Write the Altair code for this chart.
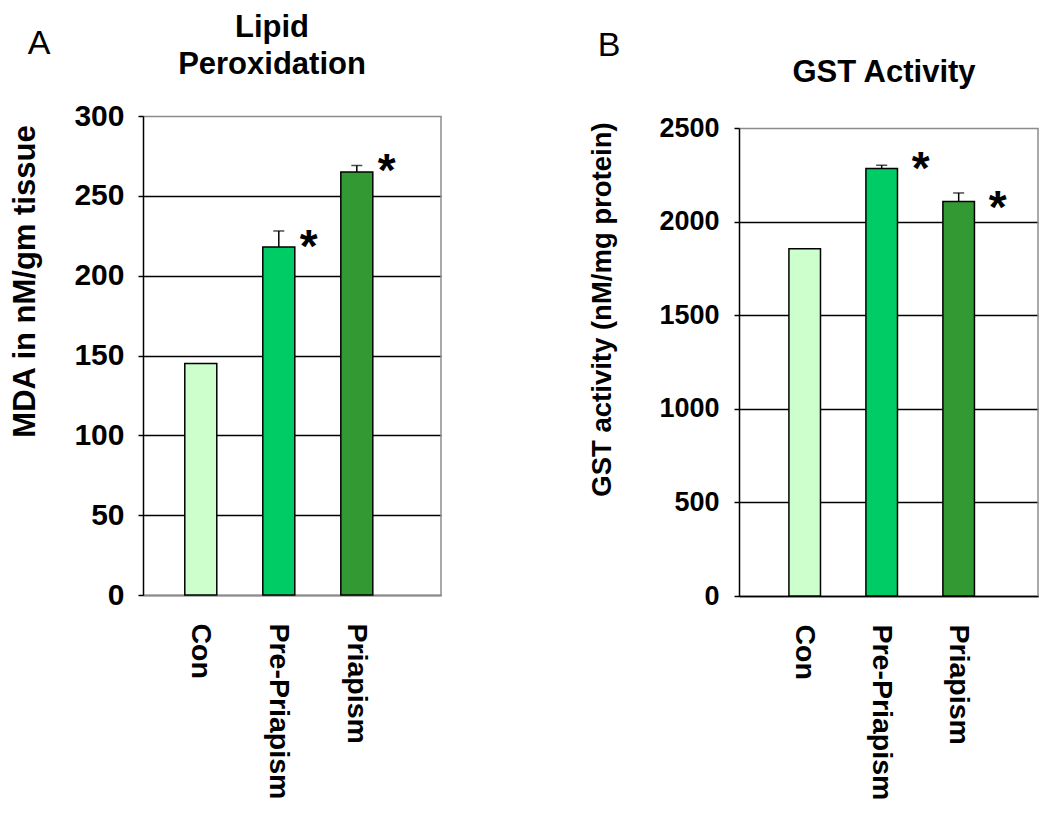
import altair as alt
import pandas as pd

groups = ["Con", "Pre-Priapism", "Priapism"]
colors = ["#CCFFCC", "#00CC66", "#339933"]

mda_values = [145, 218, 265]
mda_errors = [0, 10, 4]
mda_stars = ["", "*", "*"]
mda_star_y = [0, 224, 272]
mda_ticks = [0, 50, 100, 150, 200, 250, 300]

gst_values = [1855, 2283, 2108]
gst_errors = [0, 18, 45]
gst_stars = ["", "*", "*"]
gst_star_y = [0, 2334, 2126]
gst_ticks = [0, 500, 1000, 1500, 2000, 2500]

FONT = "Liberation Sans"
FRAME = "#8c8c8c"


def panel(values, errors, stars, star_y, ticks, ytitle, ytitle_size, tick_size,
          tick_pad, title_text, letter, width, height, top_gap, pi, po, align,
          xdom_color, title_x, title_y, star_dx, head_x, head_y, letter_x, letter_y):
    ymax = ticks[-1]
    df = pd.DataFrame({
        "group": groups,
        "value": values,
        "err": errors,
        "hi": [v + e for v, e in zip(values, errors)],
        "star": stars,
        "star_y": star_y,
    })
    x = alt.X(
        "group:N", sort=groups,
        scale=alt.Scale(paddingInner=pi, paddingOuter=po, align=align),
        axis=alt.Axis(title=None, labelAngle=90, labelFont=FONT, labelFontSize=28.5,
                      labelFontWeight="bold", labelColor="black", labelPadding=28,
                      labelLimit=0, ticks=False, domainColor=xdom_color, domainWidth=1.5,
                      labelAlign="left", labelBaseline="middle", grid=False),
    )
    y = alt.Y(
        "value:Q",
        scale=alt.Scale(domain=[0, ymax], nice=False, range=[height, top_gap]),
        axis=alt.Axis(values=ticks, format="d", title=ytitle, titleFont=FONT,
                      titleFontSize=ytitle_size, titleFontWeight="bold", titleColor="black",
                      titleX=title_x, titleY=title_y, titleAngle=-90,
                      titleAlign="center", titleBaseline="bottom",
                      labelFont=FONT, labelFontSize=tick_size, labelFontWeight="bold",
                      labelColor="black", labelPadding=tick_pad, labelOverlap=False,
                      tickColor="black", tickSize=5, tickWidth=1.5,
                      domainColor="black", domainWidth=1.5,
                      grid=True, gridWidth=1.5,
                      gridColor={"condition": {"test": f"datum.value >= {ymax}", "value": FRAME},
                                 "value": "black"}),
    )
    base = alt.Chart(df)
    bars = base.mark_bar(stroke="black", strokeWidth=1.5).encode(
        x=x, y=y,
        color=alt.Color("group:N", scale=alt.Scale(domain=groups, range=colors), legend=None),
    )
    errdf = base.transform_filter("datum.err > 0")
    rule = errdf.mark_rule(color="black", strokeWidth=1.5).encode(x=x, y="value:Q", y2="hi:Q")
    cap = errdf.mark_tick(color="black", thickness=1.5, size=11).encode(x=x, y="hi:Q")
    star = base.transform_filter("datum.star != ''").mark_text(
        font=FONT, fontSize=46, fontWeight="bold", color="black", dx=star_dx, dy=25,
        baseline="alphabetic", align="center",
    ).encode(x=x, y="star_y:Q", text="star:N")
    one = pd.DataFrame({"t": [title_text], "l": [letter]})
    frame = alt.Chart(one).mark_rule(color=FRAME, strokeWidth=1.5).encode(
        x=alt.value(width), y=alt.datum(0), y2=alt.datum(ymax)
    )
    head = alt.Chart(one).mark_text(
        font=FONT, fontSize=31, fontWeight="bold", color="black", lineBreak="\n",
        lineHeight=37, align="center", baseline="top",
    ).encode(x=alt.value(head_x), y=alt.value(head_y), text="t:N")
    let = alt.Chart(one).mark_text(
        font=FONT, fontSize=34, color="black", align="center", baseline="middle",
    ).encode(x=alt.value(letter_x), y=alt.value(letter_y), text="l:N")
    return alt.layer(bars, rule, cap, star, frame, head, let).properties(
        width=width, height=height)


chart_a = panel(mda_values, mda_errors, mda_stars, mda_star_y, mda_ticks,
                "MDA in nM/gm tissue", 31, 30, 14, "Lipid\nPeroxidation", "A",
                298, 479, 0, 0.59, 0.705, 0.38, FRAME, -102, 165,
                30, 129, -103, -104, -72)
chart_b = panel(gst_values, gst_errors, gst_stars, gst_star_y, gst_ticks,
                "GST activity (nM/mg protein)", 27.5, 27, 15, "GST Activity", "B",
                299, 480, 12, 0.59, 0.737, 0.44, "black", -123, 193,
                39, 145, -58, -130, -70)

chart = alt.HConcatChart(
    hconcat=[chart_a, chart_b], spacing=298, bounds="flush",
    padding={"left": 0, "top": 4, "right": 0, "bottom": 0},
    background="white",
).configure_view(strokeWidth=0, stroke="transparent")

chart.save("out.html", embed_options={"renderer": "svg", "actions": False})
